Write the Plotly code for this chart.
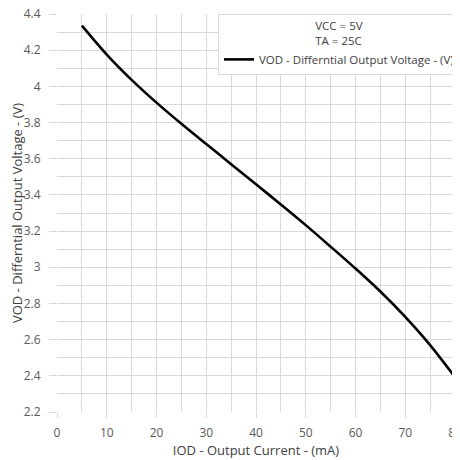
import plotly.graph_objects as go

iod_ma = [5, 10, 15, 20, 25, 30, 35, 40, 45, 50, 55, 60, 65, 70, 75, 80]
vod_v = [4.336, 4.176, 4.036, 3.910, 3.793, 3.681, 3.570, 3.459, 3.347, 3.233,
         3.114, 2.993, 2.866, 2.726, 2.570, 2.393]

y_tickvals = [2.2, 2.4, 2.6, 2.8, 3.0, 3.2, 3.4, 3.6, 3.8, 4.0, 4.2, 4.4]
y_ticktext = ["2.2", "2.4", "2.6", "2.8", "3", "3.2", "3.4", "3.6", "3.8", "4", "4.2", "4.4"]
x_tickvals = [0, 10, 20, 30, 40, 50, 60, 70, 80]

series_name = "VOD - Differntial Output Voltage - (V)"
legend_title = "VCC = 5V<br>TA = 25C"
x_title = "IOD - Output Current - (mA)"
y_title = "VOD - Differntial Output Voltage - (V)"

FONT = "Open Sans"
grid = "#d9d9d9"
txt = "#595959"

fig = go.Figure()
fig.add_trace(go.Scatter(
    x=iod_ma, y=vod_v, mode="lines", name=series_name,
    line=dict(color="black", width=2.6, shape="spline", smoothing=0.8),
    showlegend=True,
))

fig.update_layout(
    width=460, height=460,
    margin=dict(l=49, r=13, t=6, b=56, autoexpand=False),
    paper_bgcolor="white", plot_bgcolor="white",
    font=dict(family=FONT, size=12, color=txt),
    showlegend=True,
    legend=dict(
        x=0.4045, y=1.0, xanchor="left", yanchor="top",
        bgcolor="white", bordercolor=grid, borderwidth=1,
        font=dict(family=FONT, size=11.5, color="#404040"),
        title=dict(text=legend_title, side="top center",
                   font=dict(family=FONT, size=11.5, color="#404040")),
        itemwidth=30,
    ),
    xaxis=dict(
        range=[0, 80], tickvals=x_tickvals, automargin=False,
        showgrid=True, gridcolor=grid, gridwidth=1,
        minor=dict(dtick=5, showgrid=True, gridcolor=grid, gridwidth=1),
        ticks="outside", ticklen=5, tickcolor=grid,
        ticklabelstandoff=5, ticklabeloverflow="allow",
        showline=False, zeroline=False,
        tickfont=dict(family=FONT, size=12, color=txt),
        title=dict(text=x_title, standoff=0,
                   font=dict(family=FONT, size=13, color="#404040")),
    ),
    yaxis=dict(
        range=[2.2, 4.4], tickvals=y_tickvals, ticktext=y_ticktext, automargin=False,
        showgrid=True, gridcolor=grid, gridwidth=1,
        minor=dict(dtick=0.1, tick0=2.2, showgrid=True, gridcolor=grid, gridwidth=1),
        ticks="outside", ticklen=7, tickcolor=grid,
        ticklabelstandoff=6, ticklabeloverflow="allow",
        showline=False, zeroline=False,
        tickfont=dict(family=FONT, size=12, color=txt),
        title=dict(text=y_title, standoff=0,
                   font=dict(family=FONT, size=13, color="#404040")),
    ),
)

fig.write_html("out.html")
